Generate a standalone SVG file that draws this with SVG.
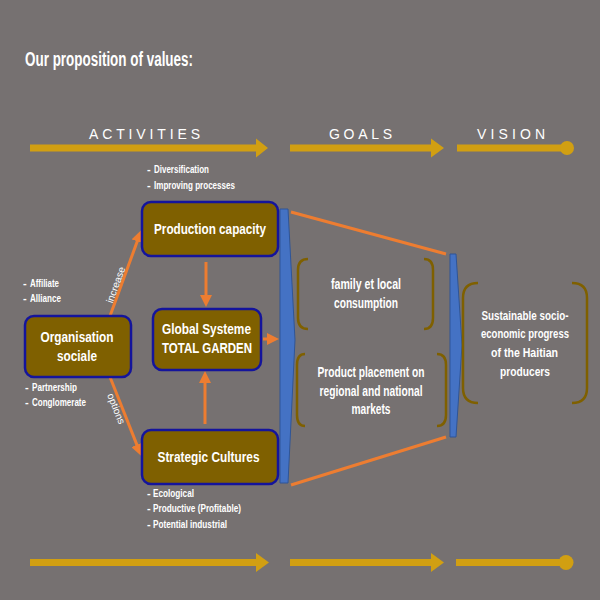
<svg xmlns="http://www.w3.org/2000/svg" width="600" height="600" viewBox="0 0 600 600">
  <style>
    .t { font-family: "Liberation Sans Narrow", "Arial Narrow", "Liberation Sans", Arial, sans-serif; fill: #ffffff; font-weight: bold; }
    .title { font-size: 20px; }
    .hdr { font-size: 14px; font-weight: normal; }
    .box { font-size: 15px; text-anchor: middle; }
    .goal { font-size: 14px; text-anchor: middle; }
    .vis { font-size: 13px; text-anchor: middle; }
    .note { font-size: 11px; }
    .lbl { font-size: 10px; text-anchor: middle; font-weight: normal; }
    .gold { fill: #D19F12; }
    .node rect { fill: #7F6000; stroke: #14149C; stroke-width: 2.5; }
    .bar { fill: #4472C4; stroke: #2F5597; stroke-width: 1; }
    .bracket { fill: none; stroke: #7F6000; stroke-width: 2.5; }
    .flow { stroke: #ED7D31; stroke-width: 3; fill: none; }
    .arrow { marker-end: url(#head); }
  </style>
  <defs>
    <marker id="head" markerUnits="userSpaceOnUse" markerWidth="12" markerHeight="12" viewBox="0 0 12 12" refX="3" refY="6" orient="auto">
      <path d="M0,0 L12,6 L0,12 Z" fill="#ED7D31"/>
    </marker>
  </defs>

  <!-- background -->
  <rect width="600" height="600" fill="#767171"/>

  <text class="t title" x="25" y="66" textLength="168" lengthAdjust="spacingAndGlyphs">Our proposition of values:</text>

  <!-- stage headings -->
  <g id="headings">
    <text class="t hdr" x="89" y="139" textLength="111" lengthAdjust="spacing">ACTIVITIES</text>
    <text class="t hdr" x="329" y="139" textLength="63" lengthAdjust="spacing">GOALS</text>
    <text class="t hdr" x="477" y="139" textLength="68" lengthAdjust="spacing">VISION</text>
  </g>

  <!-- stage timeline, top -->
  <g id="timeline-top" class="gold">
    <path d="M30,144.5 H256 V138.5 L268,148 L256,157.5 V151.5 H30 Z"/>
    <path d="M290,144.5 H431 V138.5 L444,148 L431,157.5 V151.5 H290 Z"/>
    <rect x="457" y="144.5" width="110" height="7"/>
    <circle cx="567" cy="148" r="7"/>
  </g>

  <!-- stage timeline, bottom -->
  <g id="timeline-bottom" class="gold">
    <path d="M30,559 H256 V553 L269,562.5 L256,572 V566 H30 Z"/>
    <path d="M290,559 H431 V553 L444,562.5 L431,572 V566 H290 Z"/>
    <rect x="456" y="559" width="110" height="7"/>
    <circle cx="566" cy="562.5" r="7.5"/>
  </g>

  <!-- notes -->
  <g id="notes-production">
    <text class="t note" x="147" y="173">-</text>
    <text class="t note" x="154" y="173" textLength="55" lengthAdjust="spacingAndGlyphs">Diversification</text>
    <text class="t note" x="147" y="189">-</text>
    <text class="t note" x="154" y="189" textLength="81" lengthAdjust="spacingAndGlyphs">Improving processes</text>
  </g>
  <g id="notes-organisation">
    <text class="t note" x="23" y="287">-</text>
    <text class="t note" x="30" y="287" textLength="29" lengthAdjust="spacingAndGlyphs">Affiliate</text>
    <text class="t note" x="23" y="302">-</text>
    <text class="t note" x="30" y="302" textLength="31" lengthAdjust="spacingAndGlyphs">Alliance</text>
    <text class="t note" x="25" y="391">-</text>
    <text class="t note" x="32" y="391" textLength="45" lengthAdjust="spacingAndGlyphs">Partnership</text>
    <text class="t note" x="25" y="406">-</text>
    <text class="t note" x="32" y="406" textLength="54" lengthAdjust="spacingAndGlyphs">Conglomerate</text>
  </g>
  <g id="notes-strategic">
    <text class="t note" x="147" y="497">-</text>
    <text class="t note" x="153" y="497" textLength="41" lengthAdjust="spacingAndGlyphs">Ecological</text>
    <text class="t note" x="147" y="512">-</text>
    <text class="t note" x="153" y="512" textLength="88" lengthAdjust="spacingAndGlyphs">Productive (Profitable)</text>
    <text class="t note" x="147" y="528">-</text>
    <text class="t note" x="153" y="528" textLength="74" lengthAdjust="spacingAndGlyphs">Potential industrial</text>
  </g>

  <!-- connectors -->
  <g id="connectors">
    <line class="flow arrow" x1="110" y1="316" x2="138.3" y2="238.5"/>
    <line class="flow arrow" x1="110" y1="377" x2="138" y2="447.6"/>
    <line class="flow arrow" x1="206" y1="262" x2="206" y2="298"/>
    <line class="flow arrow" x1="205" y1="424" x2="205" y2="380"/>
    <line class="flow arrow" x1="263" y1="339" x2="270" y2="339"/>
    <line class="flow" x1="291" y1="212" x2="446" y2="254"/>
    <line class="flow" x1="291" y1="485" x2="446" y2="437"/>
    <text class="t lbl" transform="translate(119,286) rotate(-70)">increase</text>
    <text class="t lbl" transform="translate(113,410) rotate(68)">options</text>
  </g>

  <!-- stage dividers -->
  <g id="divider-goals">
    <path class="bar" d="M280,209 L288,209 L295,340 L288,483 L280,483 Z"/>
  </g>
  <g id="divider-vision">
    <path class="bar" d="M450,254 L456,254 L462,345 L456,437 L450,437 Z"/>
  </g>

  <!-- activity nodes -->
  <g id="node-production" class="node">
    <rect x="142" y="202" width="136" height="54" rx="9"/>
    <text class="t box" x="210" y="234" textLength="112" lengthAdjust="spacingAndGlyphs">Production capacity</text>
  </g>
  <g id="node-organisation" class="node">
    <rect x="25" y="316" width="106" height="61" rx="9"/>
    <text class="t box" x="77" y="342" textLength="73" lengthAdjust="spacingAndGlyphs">Organisation</text>
    <text class="t box" x="77" y="361" textLength="40" lengthAdjust="spacingAndGlyphs">sociale</text>
  </g>
  <g id="node-global" class="node">
    <rect x="153" y="309" width="108" height="61" rx="9"/>
    <text class="t box" x="206.5" y="334" textLength="89" lengthAdjust="spacingAndGlyphs">Global Systeme</text>
    <text class="t box" x="207" y="353" textLength="90" lengthAdjust="spacingAndGlyphs">TOTAL GARDEN</text>
  </g>
  <g id="node-strategic" class="node">
    <rect x="142" y="430" width="136" height="54" rx="9"/>
    <text class="t box" x="208.5" y="462" textLength="102" lengthAdjust="spacingAndGlyphs">Strategic Cultures</text>
  </g>

  <!-- goal nodes -->
  <g id="node-local">
    <path class="bracket" d="M308,259 Q298,259 298,270 L298,318 Q298,329 308,329"/>
    <path class="bracket" d="M424,259 Q433,259 433,270 L433,318 Q433,329 424,329"/>
    <text class="t goal" x="366" y="289" textLength="70" lengthAdjust="spacingAndGlyphs">family et  local</text>
    <text class="t goal" x="366" y="308" textLength="64" lengthAdjust="spacingAndGlyphs">consumption</text>
  </g>
  <g id="node-markets">
    <path class="bracket" d="M305,354 Q297,354 297,365 L297,415 Q297,426 305,426"/>
    <path class="bracket" d="M437,354 Q446,354 446,365 L446,415 Q446,426 437,426"/>
    <text class="t goal" x="371" y="377" textLength="107" lengthAdjust="spacingAndGlyphs">Product placement on</text>
    <text class="t goal" x="371" y="396" textLength="103" lengthAdjust="spacingAndGlyphs">regional and national</text>
    <text class="t goal" x="371" y="414" textLength="39" lengthAdjust="spacingAndGlyphs">markets</text>
  </g>

  <!-- vision node -->
  <g id="node-vision">
    <path class="bracket" d="M478,283 Q463,283 463,298 L463,388 Q463,403 478,403"/>
    <path class="bracket" d="M572,283 Q587,283 587,298 L587,388 Q587,403 572,403"/>
    <text class="t vis" x="525" y="320" textLength="87" lengthAdjust="spacingAndGlyphs">Sustainable socio-</text>
    <text class="t vis" x="525" y="338" textLength="88" lengthAdjust="spacingAndGlyphs">economic progress</text>
    <text class="t vis" x="524.5" y="357" textLength="67" lengthAdjust="spacingAndGlyphs">of the Haitian</text>
    <text class="t vis" x="525" y="376" textLength="50" lengthAdjust="spacingAndGlyphs">producers</text>
  </g>
</svg>
